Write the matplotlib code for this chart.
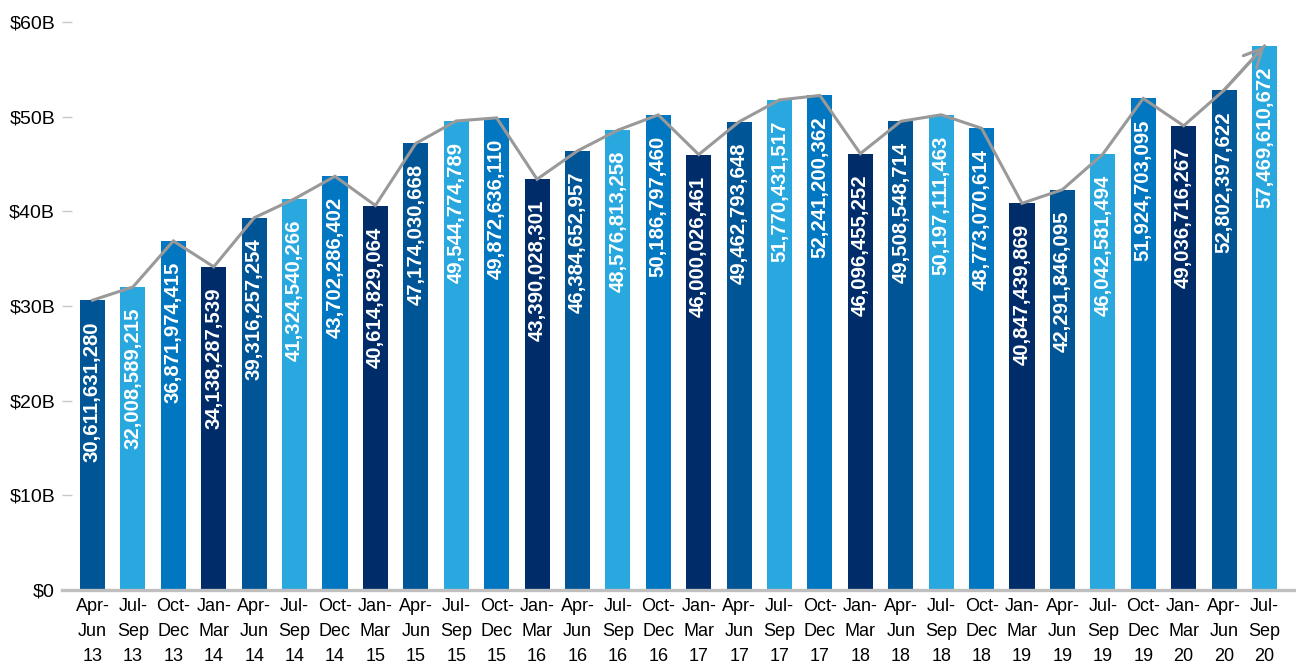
import matplotlib
matplotlib.use('Agg')
import matplotlib.pyplot as plt

plt.rcParams['font.family'] = ['Liberation Sans', 'DejaVu Sans']

# quarterly totals, in dollars
periods = ['Apr-\nJun', 'Jul-\nSep', 'Oct-\nDec', 'Jan-\nMar']
years = ['13', '13', '13', '14', '14', '14', '14', '15', '15', '15',
         '15', '16', '16', '16', '16', '17', '17', '17', '17', '18',
         '18', '18', '18', '19', '19', '19', '19', '20', '20', '20']
values = [30611631280, 32008589215, 36871974415, 34138287539, 39316257254,
          41324540266, 43702286402, 40614829064, 47174030668, 49544774789,
          49872636110, 43390028301, 46384652957, 48576813258, 50186797460,
          46000026461, 49462793648, 51770431517, 52241200362, 46096455252,
          49508548714, 50197111463, 48773070614, 40847439869, 42291846095,
          46042581494, 51924703095, 49036716267, 52802397622, 57469610672]
quarter_colors = ['#005596', '#29a8e0', '#0077c0', '#002d6a']
y_ticks = [0, 10, 20, 30, 40, 50, 60]
y_labels = ['$0', '$10B', '$20B', '$30B', '$40B', '$50B', '$60B']

labels = [periods[i % 4] + '\n' + y for i, y in enumerate(years)]
colors = [quarter_colors[i % 4] for i in range(len(values))]
billions = [v / 1e9 for v in values]
xs = list(range(len(values)))

fig = plt.figure(figsize=(12.96, 6.66), dpi=100)
ax = fig.add_axes([62 / 1296, 76 / 666, 1 - 62 / 1296, 568 / 666])

ax.bar(xs, billions, width=0.62, color=colors, zorder=2)

for x, b, v in zip(xs, billions, values):
    ax.annotate(f'{v:,}', (x, b), xytext=(0, -15), textcoords='offset points',
                rotation=90, ha='center', va='top', color='white',
                fontsize=14.7, fontweight='bold', zorder=3)

# trend line with an arrow at the end
ax.plot(xs, billions, color='#999999', lw=2.2, zorder=4, solid_joinstyle='miter')
ax.annotate('', xy=(xs[-1], billions[-1]), xytext=(xs[-2], billions[-2]),
            arrowprops=dict(arrowstyle='->,head_length=1.3,head_width=0.65',
                            color='#999999', lw=2.2, shrinkA=0, shrinkB=0),
            zorder=4)

ax.set_xlim(-0.755, 29.78)
ax.set_ylim(0, 60)
ax.set_yticks(y_ticks)
ax.set_yticklabels(y_labels, fontsize=14)
ax.set_xticks(xs)
ax.set_xticklabels(labels, fontsize=13, linespacing=1.6)

for side in ('top', 'right', 'left'):
    ax.spines[side].set_visible(False)
ax.spines['bottom'].set_color('#bfbfbf')
ax.spines['bottom'].set_linewidth(2.4)
ax.spines['bottom'].set_zorder(5)
ax.tick_params(axis='y', direction='in', length=7, width=1, color='#c8c8c8', pad=5)
ax.tick_params(axis='x', length=0, pad=6)

plt.savefig('out.png')
